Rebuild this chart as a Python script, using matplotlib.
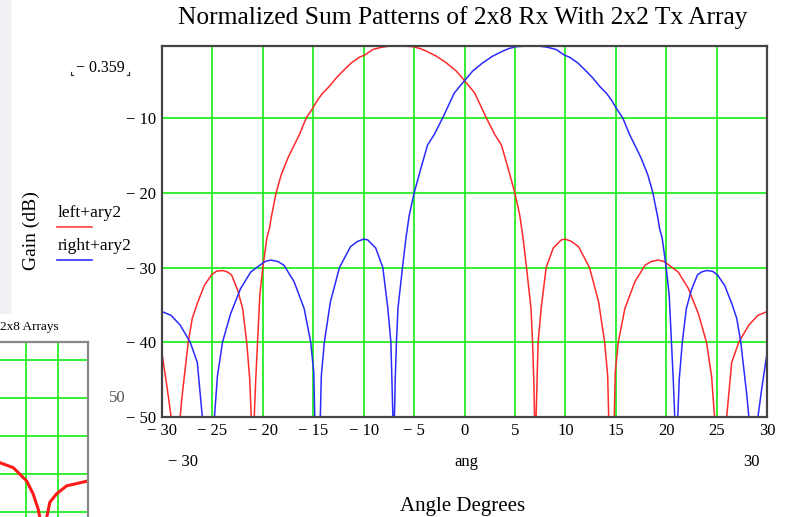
"""Normalized sum patterns of the 2x8 Rx / 2x2 Tx array (Mathcad style)."""

from __future__ import annotations

import matplotlib

matplotlib.use("Agg")
import matplotlib.pyplot as plt

# --- data ------------------------------------------------------------------
left_ang = [
    -30.0, -29.5, -29.1, -28.2, -28.0, -27.4, -27.0, -26.5, -25.8, -25.1,
    -24.6, -24.0, -23.5, -23.1, -22.5, -22.0, -21.6, -21.3, -21.15, -20.85,
    -20.7, -20.3, -20.0, -19.61, -19.35, -19.18, -18.68, -18.18, -17.53, -17.03,
    -16.37, -15.7, -15.04, -14.55, -14.05, -13.39, -12.72, -12.07, -11.23, -10.41,
    -9.91, -9.09, -8.2, -7.43, -6.3, -5.11, -4.4, -3.78, -2.79, -1.8,
    -0.8, 0.0, 1.01, 2.17, 3.0, 3.66, 4.32, 4.99, 5.48, 5.81,
    6.15, 6.6, 6.75, 6.87, 6.95, 7.1, 7.3, 7.6, 8.1, 8.8,
    9.6, 10.0, 10.6, 11.3, 12.4, 13.3, 13.9, 14.2, 14.3, 14.85,
    14.95, 15.25, 15.9, 16.9, 17.9, 18.5, 19.2, 19.8, 20.2, 21.2,
    22.2, 23.2, 24.0, 24.5, 24.8, 26.0, 26.5, 27.2, 28.2, 29.1,
    30.0,
]
left_gain = [
    -41.5, -46.0, -50.0, -50.0, -47.1, -40.0, -36.8, -34.8, -32.4, -31.0,
    -30.5, -30.4, -30.6, -31.0, -33.0, -35.5, -40.0, -44.9, -50.0, -50.0,
    -44.9, -33.7, -30.0, -26.1, -24.8, -23.4, -20.0, -17.6, -15.4, -14.0,
    -12.2, -10.0, -8.66, -7.54, -6.64, -5.74, -4.63, -3.73, -2.62, -1.85,
    -1.58, -0.83, -0.52, -0.38, -0.359, -0.45, -0.7, -1.05, -1.72, -2.62,
    -3.73, -5.0, -6.64, -10.0, -12.2, -13.6, -16.7, -20.0, -23.0, -26.1,
    -30.0, -35.5, -40.0, -45.0, -50.0, -50.0, -40.0, -35.5, -30.0, -27.4,
    -26.3, -26.2, -26.5, -27.2, -30.0, -34.6, -40.0, -44.5, -50.0, -50.0,
    -44.0, -40.0, -35.5, -31.9, -29.7, -29.2, -29.0, -29.2, -29.6, -30.6,
    -32.8, -36.2, -40.0, -44.5, -50.0, -50.0, -42.7, -40.0, -37.7, -36.4,
    -35.9,
]

right_ang = [
    -30.0, -29.1, -28.2, -27.2, -26.5, -26.0, -24.8, -24.5, -24.0, -23.2,
    -22.2, -21.2, -20.2, -19.8, -19.2, -18.5, -17.9, -16.9, -15.9, -15.25,
    -14.95, -14.85, -14.3, -14.2, -13.9, -13.3, -12.4, -11.3, -10.6, -10.0,
    -9.6, -8.8, -8.1, -7.6, -7.3, -7.1, -6.95, -6.87, -6.75, -6.6,
    -6.15, -5.81, -5.48, -4.99, -4.32, -3.66, -3.0, -2.17, -1.01, 0.0,
    0.8, 1.8, 2.79, 3.78, 4.4, 5.11, 6.3, 7.43, 8.2, 9.09,
    9.91, 10.41, 11.23, 12.07, 12.72, 13.39, 14.05, 14.55, 15.04, 15.7,
    16.37, 17.03, 17.53, 18.18, 18.68, 19.18, 19.35, 19.61, 20.0, 20.3,
    20.7, 20.85, 21.15, 21.3, 21.6, 22.0, 22.5, 23.1, 23.5, 24.0,
    24.6, 25.1, 25.8, 26.5, 27.0, 27.4, 28.0, 28.2, 29.1, 29.5,
    30.0,
]
right_gain = [
    -35.9, -36.4, -37.7, -40.0, -42.7, -50.0, -50.0, -44.5, -40.0, -36.2,
    -32.8, -30.6, -29.6, -29.2, -29.0, -29.2, -29.7, -31.9, -35.5, -40.0,
    -44.0, -50.0, -50.0, -44.5, -40.0, -34.6, -30.0, -27.2, -26.5, -26.2,
    -26.3, -27.4, -30.0, -35.5, -40.0, -50.0, -50.0, -45.0, -40.0, -35.5,
    -30.0, -26.1, -23.0, -20.0, -16.7, -13.6, -12.2, -10.0, -6.64, -5.0,
    -3.73, -2.62, -1.72, -1.05, -0.7, -0.45, -0.359, -0.38, -0.52, -0.83,
    -1.58, -1.85, -2.62, -3.73, -4.63, -5.74, -6.64, -7.54, -8.66, -10.0,
    -12.2, -14.0, -15.4, -17.6, -20.0, -23.4, -24.8, -26.1, -30.0, -33.7,
    -44.9, -50.0, -50.0, -44.9, -40.0, -35.5, -33.0, -31.0, -30.6, -30.4,
    -30.5, -31.0, -32.4, -34.8, -36.8, -40.0, -47.1, -50.0, -50.0, -46.0,
    -41.5,
]

x_ticks = [-30, -25, -20, -15, -10, -5, 0, 5, 10, 15, 20, 25, 30]
y_ticks = [-50, -40, -30, -20, -10]
y_top = -0.359

# clipped neighbouring Mathcad plot in the lower left corner
inset_ang = [-18.4, -14.2, -9.95, -7.9, -6.3, -4.7, -2.6, -0.45, 2.7, 9.5]
inset_gain = [-37.0, -38.3, -41.8, -45.2, -49.2, -56.0, -47.4, -45.2, -43.1, -41.8]

W, H = 788, 517
SERIF = ["Liberation Serif", "DejaVu Serif"]
GRID = "#22ee22"


def fig_xy(x: float, y: float) -> tuple[float, float]:
    """Pixel position (from top-left) to figure fraction."""
    return x / W, 1 - y / H


def label(v: float) -> str:
    return f"\u2212 {abs(v):g}" if v < 0 else f"{v:g}"


def px_line(xs, ys, **kw) -> None:
    """Small decoration drawn in pixel coordinates."""
    fig.add_artist(plt.Line2D([x / W for x in xs], [1 - y / H for y in ys], **kw))


plt.rcParams["font.family"] = SERIF
fig = plt.figure(figsize=(W / 100, H / 100), dpi=100)

# light side strip of the worksheet
fig.patches.append(
    plt.Rectangle(fig_xy(0, 313), 10 / W, 313 / H, transform=fig.transFigure,
                  color="#eef0f3", zorder=0)
)

# --- main plot --------------------------------------------------------------
x0, y0 = fig_xy(162, 417)
x1, y1 = fig_xy(767, 46)
ax = fig.add_axes([x0, y0, x1 - x0, y1 - y0])
ax.plot(left_ang, left_gain, color="#ff2a2a", lw=1.1)
ax.plot(right_ang, right_gain, color="#2a2aff", lw=1.1)
ax.set_xlim(-30, 30)
ax.set_ylim(-50, y_top)
ax.set_xticks(x_ticks, [label(v) for v in x_ticks])
ax.set_yticks(y_ticks, [label(v) for v in y_ticks])
ax.tick_params(length=0, labelsize=12, pad=4)
ax.grid(True, color=GRID, lw=1.3)
ax.set_axisbelow(True)
for s in ax.spines.values():
    s.set_color("#444444")
    s.set_linewidth(1.6)

fig.text(*fig_xy(463, 18), "Normalized Sum Patterns of 2x8 Rx With 2x2 Tx Array",
         ha="center", va="center", fontsize=18.4)
fig.text(*fig_xy(463, 507), "Angle Degrees", ha="center", va="center", fontsize=15)
fig.text(*fig_xy(31, 231), "Gain (dB)", ha="center", va="center", rotation=90,
         fontsize=14)
fig.text(*fig_xy(100, 68), "\u2212 0.359", ha="center", va="center", fontsize=11.5)
px_line([71, 71, 73], [72, 75, 75], color="#333333", lw=0.9)
px_line([127, 129, 129], [75, 75, 72], color="#333333", lw=0.9)
fig.text(*fig_xy(117, 398), "50", ha="center", va="center", fontsize=12,
         color="#555555")

# range / variable labels under the x axis
fig.text(*fig_xy(183, 462), "\u2212 30", ha="center", va="center", fontsize=12)
fig.text(*fig_xy(466, 462), "ang", ha="center", va="center", fontsize=12)
fig.text(*fig_xy(751, 462), "30", ha="center", va="center", fontsize=12)

# Mathcad-style trace legend
for txt, col, ty in [("left+ary2", "#ff4040", 213), ("right+ary2", "#3030ff", 246)]:
    fig.text(*fig_xy(58, ty), txt, ha="left", va="center", fontsize=12.5)
    px_line([57, 92], [ty + 14, ty + 14], color=col, lw=1.2)

# --- clipped neighbour plot -------------------------------------------------
ix0, iy0 = fig_xy(0, 517)
ix1, iy1 = fig_xy(88, 342)
inset = fig.add_axes([ix0, iy0, ix1 - ix0, iy1 - iy0])
inset.plot(inset_ang, inset_gain, color="#ff1a1a", lw=2.2)
inset.set_xlim(-18.4, 9.5)
inset.set_ylim(-51.3, -5.2)
inset.set_xticks([-10, 0])
inset.set_yticks([-10, -20, -30, -40, -50])
inset.tick_params(length=0, labelbottom=False, labelleft=False)
inset.grid(True, color=GRID, lw=1.3)
inset.set_axisbelow(True)
inset.spines["left"].set_visible(False)
inset.spines["bottom"].set_visible(False)
for side in ("top", "right"):
    inset.spines[side].set_color("#888888")
    inset.spines[side].set_linewidth(1.6)
fig.text(*fig_xy(0, 327), "2x8 Arrays", ha="left", va="center", fontsize=9.5)

fig.savefig("out.png", dpi=100)
plt.close(fig)
